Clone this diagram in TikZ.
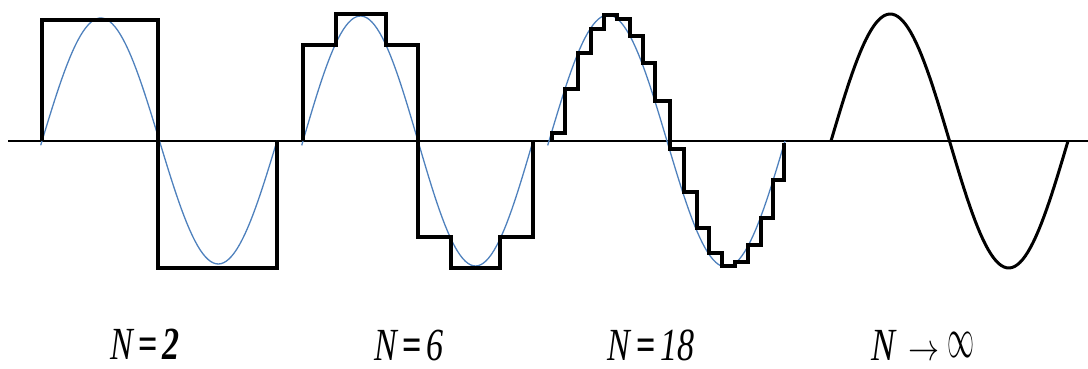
\documentclass[tikz,border=0pt]{standalone}
\usepackage{fontspec}
\setmainfont{Liberation Serif}
\usepackage{graphicx}
\usetikzlibrary{positioning}
\definecolor{wave}{RGB}{79,129,189}
\definecolor{ink}{RGB}{0,0,0}
\newcommand\eqlabel[1]{\scalebox{0.74}[1]{\textit{N}\hspace{6pt}\textbf{=}\hspace{6pt}\textit{#1}}}

\begin{document}
\begin{tikzpicture}[x=1pt,y=-1pt,
    refsine/.style={wave,line width=1.3pt},
    stairs/.style={ink,line width=3.2pt,line join=miter},
    lbl/.style={inner sep=0pt,anchor=base,font=\fontsize{46}{46}\selectfont}]
  \useasboundingbox (0,0) rectangle (1088,369);
  % axis
  \draw[ink,line width=1.2pt] (8,141) -- (1088,141);
  % reference sines
  \foreach \xa/\p/\a in {42/235/123,303/230/125,549/236/126}{
    \draw[refsine] plot[domain=-2:360,samples=90] ({\xa+\x/360*\p},{141-\a*sin(\x)});
  }
  % N = 2
  \draw[stairs] (42,141) -- (42,20) -- (158,20) -- (158,268) -- (277,268) -- (277,141);
  % N = 6
  \draw[stairs] (303,141) -- (303,45) -- (336,45) -- (336,14) -- (386,14) -- (386,45)
    -- (418,45) -- (418,237) -- (451,237) -- (451,268) -- (500,268) -- (500,237)
    -- (533,237) -- (533,141);
  % N = 18
  \draw[stairs] (552,141) -- (552,133) -- (565,133) -- (565,89) -- (578,89) -- (578,53)
    -- (591,53) -- (591,29) -- (604,29) -- (604,15) -- (617,15) -- (617,19)
    -- (630,19) -- (630,36) -- (643,36) -- (643,63) -- (655,63) -- (655,101)
    -- (670,101) -- (670,149) -- (684,149) -- (684,192) -- (697,192) -- (697,228)
    -- (709,228) -- (709,253) -- (722,253) -- (722,266) -- (735,266) -- (735,262)
    -- (748,262) -- (748,245) -- (761,245) -- (761,218) -- (773,218) -- (773,180)
    -- (784,180) -- (784,143);
  % N -> infinity
  \draw[ink,line width=3pt] plot[domain=0:360,samples=90] ({831+\x/360*237},{141-127*sin(\x)});
  % labels
  \node[lbl] (ntwo) at (145,359) {\eqlabel{\textbf{2}}};
  \node[lbl] (nsix) at (409,360) {\eqlabel{6}};
  \node[lbl] (neighteen) at (651,360) {\eqlabel{18}};
  \node[lbl] (ninf) at (923,360) {\scalebox{0.78}[1]{\textit{N}}\hspace{12pt}%
    \scalebox{3.1}[3.8]{\normalsize$\rightarrow$}\hspace{8pt}%
    \raisebox{2pt}{\scalebox{2.7}[5.8]{\normalsize$\infty$}}};
\end{tikzpicture}
\end{document}
